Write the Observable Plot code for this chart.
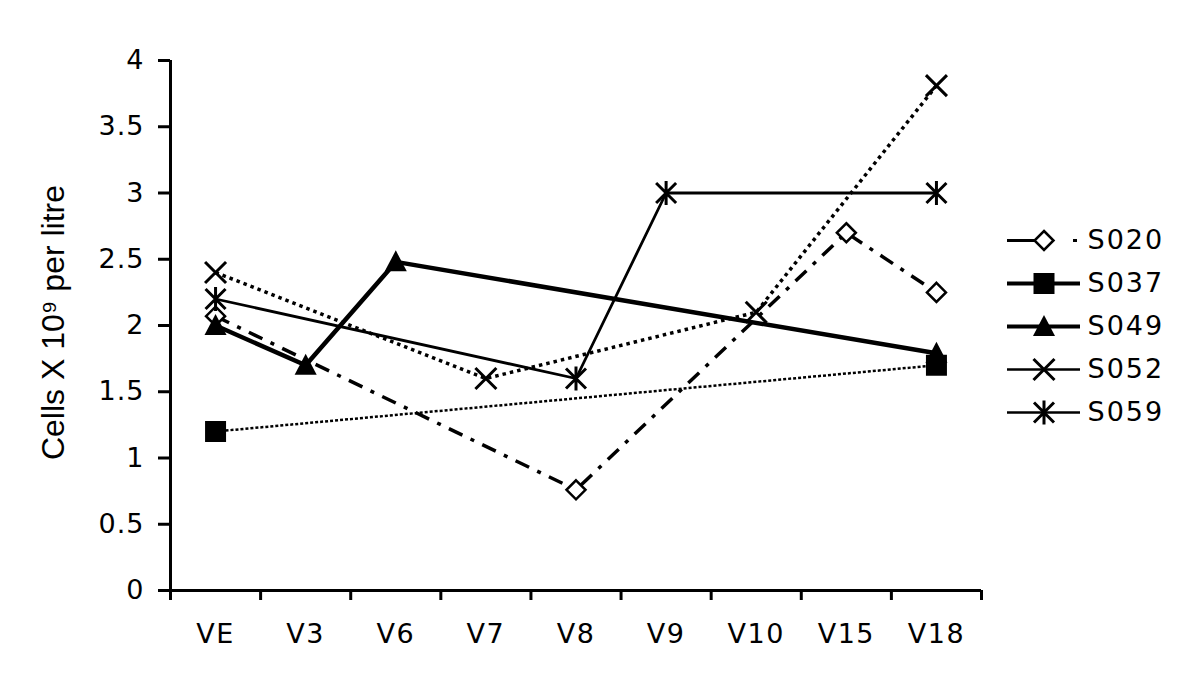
<!DOCTYPE html>
<html><head><meta charset="utf-8">
<script src="https://cdn.jsdelivr.net/npm/d3@7"></script>
<script src="https://cdn.jsdelivr.net/npm/@observablehq/plot@0.6"></script>
<style>
body{margin:0;background:#fff;}
#wrap{position:relative;width:1200px;height:696px;overflow:hidden;}
#legend{position:absolute;left:1000px;top:215px;}
#chart g[aria-label="x-axis tick label"] text{letter-spacing:1.5px;}
#chart g[aria-label="y-axis tick label"] text{letter-spacing:1px;}
#legend text{letter-spacing:2px;}
</style></head><body><div id="wrap"><div id="chart"></div><div id="legend"></div></div>
<script>
// ---- data ----
const categories = ["VE","V3","V6","V7","V8","V9","V10","V15","V18"];
const seriesNames = ["S020","S037","S049","S052","S059"];
const s020 = [2.07, null, null, null, 0.76, null, null, 2.70, 2.25];
const s037 = [1.20, null, null, null, null, null, null, null, 1.70];
const s049 = [2.00, 1.70, 2.48, null, null, null, null, null, 1.79];
const s052 = [2.40, null, null, 1.60, null, null, 2.10, null, 3.81];
const s059 = [2.20, null, null, null, 1.60, 3.00, null, null, 3.00];
const yTicks = [0, 0.5, 1, 1.5, 2, 2.5, 3, 3.5, 4];
const yLabel = "Cells X 10\u2079 per litre";

const valuesBySeries = {S020: s020, S037: s037, S049: s049, S052: s052, S059: s059};
const rows = seriesNames.flatMap(name =>
  valuesBySeries[name].map((v, i) => ({series: name, i, cat: categories[i], value: v}))
    .filter(d => d.value != null));

// ---- symbols ----
const rad = size => Math.sqrt(size / Math.PI);
const diamondSym = {draw(c, size){ const s = rad(size); c.moveTo(0,-s); c.lineTo(s,0); c.lineTo(0,s); c.lineTo(-s,0); c.closePath(); }};
const squareSym = {draw(c, size){ const s = rad(size); c.rect(-s,-s,2*s,2*s); }};
const triangleSym = {draw(c, size){ const s = rad(size); c.moveTo(0,-1.1*s); c.lineTo(1.05*s,0.9*s); c.lineTo(-1.05*s,0.9*s); c.closePath(); }};
const timesSym = {draw(c, size){ const s = rad(size); c.moveTo(-s,-s); c.lineTo(s,s); c.moveTo(s,-s); c.lineTo(-s,s); }};
const asteriskSym = {draw(c, size){ const s = rad(size); c.moveTo(-s,-s); c.lineTo(s,s); c.moveTo(s,-s); c.lineTo(-s,s); c.moveTo(0,-1.2*s); c.lineTo(0,1.2*s); }};

const styles = {
  S020: {line:{strokeWidth:3.5, strokeDasharray:"15,9,4,9"}, dot:{symbol:diamondSym, r:9.5, fill:"white", stroke:"black", strokeWidth:2.5},
         legendLine:{strokeWidth:3, strokeDasharray:"30,36,4,40"}},
  S037: {line:{strokeWidth:2.5, strokeDasharray:"3,2"}, dot:{symbol:squareSym, r:10.5, fill:"black", stroke:"none"},
         legendLine:{strokeWidth:4}},
  S049: {line:{strokeWidth:4.5}, dot:{symbol:triangleSym, r:10.5, fill:"black", stroke:"none"},
         legendLine:{strokeWidth:4}},
  S052: {line:{strokeWidth:3.5, strokeDasharray:"3.5,4"}, dot:{symbol:timesSym, r:10.5, fill:"none", stroke:"black", strokeWidth:3},
         legendLine:{strokeWidth:2.5}},
  S059: {line:{strokeWidth:2.8}, dot:{symbol:asteriskSym, r:10, fill:"none", stroke:"black", strokeWidth:3},
         legendLine:{strokeWidth:2.5}}
};

const boundaries = d3.range(-0.5, categories.length, 1);
const centers = d3.range(categories.length);

const marks = [];
for (const name of seriesNames) {
  const data = rows.filter(d => d.series === name);
  marks.push(Plot.line(data, {x: "i", y: "value", stroke: "black", strokeLinecap: "butt", strokeLinejoin: "miter", ...styles[name].line}));
}
for (const name of seriesNames) {
  const data = rows.filter(d => d.series === name);
  marks.push(Plot.dot(data, {x: "i", y: "value", ...styles[name].dot}));
}

const chart = Plot.plot({
  width: 1200, height: 696,
  marginLeft: 170, marginRight: 219, marginTop: 60, marginBottom: 106,
  style: {fontFamily: "DejaVu Sans", fontSize: "27px", background: "white", color: "black"},
  x: {domain: [-0.5, categories.length - 0.5], label: null},
  y: {domain: [0, 4], label: null},
  marks: [
    Plot.axisY({ticks: yTicks, tickSize: 12, tickPadding: 14, tickFormat: d => String(d), strokeWidth: 3, label: null, fontSize: 27}),
    Plot.axisX({ticks: boundaries, tickSize: 10, tickFormat: () => "", strokeWidth: 3, label: null}),
    Plot.axisX({ticks: centers, tickSize: 0, tickPadding: 33, tickFormat: i => categories[i], label: null, fontSize: 27}),
    Plot.ruleX([-0.5], {strokeWidth: 3}),
    Plot.ruleY([0], {strokeWidth: 3}),
    Plot.text([yLabel], {frameAnchor: "left", textAnchor: "middle", lineAnchor: "middle", dx: -117, dy: -3, rotate: -90, fontFamily: "Liberation Sans", fontSize: 32, fill: "black"}),
    ...marks
  ]
});
document.getElementById("chart").append(chart);

// ---- legend ----
const legendMarks = [];
for (const name of seriesNames) {
  legendMarks.push(Plot.ruleY([name], {x1: 0, x2: 1, y: d => d, stroke: "black", ...styles[name].legendLine}));
}
for (const name of seriesNames) {
  legendMarks.push(Plot.dot([name], {x: 0.5, y: d => d, ...styles[name].dot}));
}
legendMarks.push(Plot.text(seriesNames, {x: 1, y: d => d, text: d => d, dx: 7, textAnchor: "start", fontSize: 27, fill: "black"}));
const legend = Plot.plot({
  width: 200, height: 230, margin: 0,
  style: {fontFamily: "DejaVu Sans", background: "transparent", color: "black", overflow: "visible"},
  x: {domain: [0, 1], range: [7, 80], axis: null},
  y: {type: "point", domain: seriesNames, range: [23, 198], padding: 0, axis: null},
  marks: legendMarks
});
document.getElementById("legend").append(legend);
</script></body></html>
